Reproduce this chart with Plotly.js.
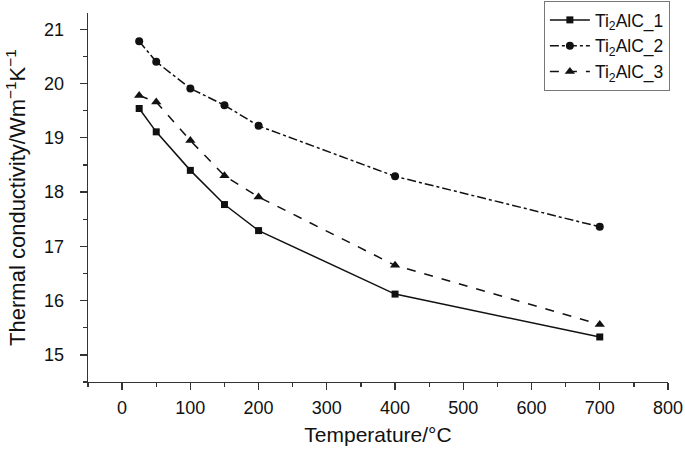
<!DOCTYPE html>
<html>
<head>
<meta charset="utf-8">
<script src="https://cdn.plot.ly/plotly-3.0.1.min.js"></script>
<style>html,body{margin:0;padding:0;background:#fff;}#chart{width:685px;height:450px;}</style>
</head>
<body>
<div id="chart"></div>
<script>
var temperature = [25, 50, 100, 150, 200, 400, 700];
var series1 = [19.54, 19.11, 18.40, 17.77, 17.29, 16.12, 15.33];
var series2 = [20.78, 20.40, 19.91, 19.60, 19.22, 18.29, 17.36];
var series3 = [19.78, 19.66, 18.95, 18.30, 17.91, 16.65, 15.56];
var names = ['Ti<sub>2</sub>AlC_1', 'Ti<sub>2</sub>AlC_2', 'Ti<sub>2</sub>AlC_3'];

var font = 'Liberation Sans, Arial, sans-serif';
var traces = [
  {x: temperature, y: series1, name: names[0], mode: 'lines+markers',
   line: {color: '#111', width: 1.5, dash: 'solid'},
   marker: {symbol: 'square', size: 7, color: '#111'}},
  {x: temperature, y: series2, name: names[1], mode: 'lines+markers',
   line: {color: '#111', width: 1.5, dash: 'dashdot'},
   marker: {symbol: 'circle', size: 8, color: '#111'}},
  {x: temperature, y: series3, name: names[2], mode: 'lines+markers',
   line: {color: '#111', width: 1.5, dash: 'dash'},
   marker: {symbol: 'triangle-up', size: 9, color: '#111'}}
];

var layout = {
  width: 685, height: 450,
  margin: {l: 88, r: 17, t: 13, b: 68, autoexpand: false},
  paper_bgcolor: '#fff', plot_bgcolor: '#fff',
  font: {family: font, color: '#111', size: 18},
  showlegend: true,
  legend: {x: 0.786, y: 1.0325, xanchor: 'left', yanchor: 'top',
           bordercolor: '#777', borderwidth: 1, bgcolor: '#fff',
           font: {family: font, size: 17.5, color: '#111'}, itemwidth: 40,
           tracegroupgap: 0},
  xaxis: {range: [-50, 800], tick0: 0, dtick: 100, showline: true, linecolor: '#333', linewidth: 1.3,
          ticks: 'outside', ticklen: 7, tickwidth: 1.3, tickcolor: '#333', showgrid: false, zeroline: false,
          minor: {ticks: 'outside', dtick: 50, tick0: 0, ticklen: 4, tickcolor: '#333', showgrid: false},
          tickfont: {size: 18}, ticklabelstandoff: 2, automargin: false,
          title: {text: 'Temperature/°C', font: {size: 21}, standoff: 10}},
  yaxis: {range: [14.5, 21.3], tick0: 15, dtick: 1, showline: true, linecolor: '#333', linewidth: 1.3,
          ticks: 'outside', ticklen: 7, tickwidth: 1.3, tickcolor: '#333', showgrid: false, zeroline: false,
          minor: {ticks: 'outside', dtick: 0.5, tick0: 15, ticklen: 4, tickcolor: '#333', showgrid: false},
          tickfont: {size: 18}, ticklabelstandoff: 12, automargin: false,
          title: {text: 'Thermal conductivity/Wm<sup>−1</sup>K<sup>−1</sup>', font: {size: 22}, standoff: 12}}
};

Plotly.newPlot('chart', traces, layout, {displayModeBar: false, staticPlot: true});
</script>
</body>
</html>
